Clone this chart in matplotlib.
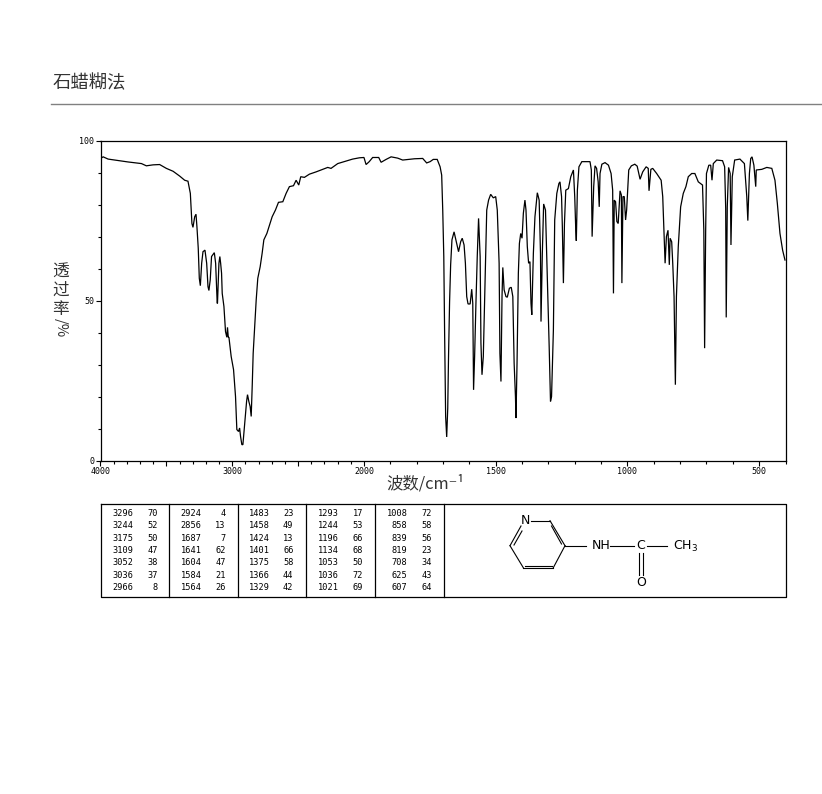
import numpy as np
import matplotlib
matplotlib.use("Agg")
import matplotlib.pyplot as plt
from matplotlib.ticker import FixedLocator, FixedFormatter

CJK = ['Noto Sans CJK SC', 'DejaVu Sans']

wavenumber = [4000,3980,3942,3891,3828,3790,3727,3689,3652,3601,3551,3500,3449,3399,3361,3336,3318,3306,3298,3285,3275,3268,3258,3250,3242,3232,3222,3207,3194,3184,3177,3167,3157,3136,3126,3119,3114,3112,3101,3094,3088,3081,3076,3063,3051,3041,3036,3030,3025,3008,2990,2975,2965,2952,2944,2937,2927,2919,2909,2899,2891,2884,2874,2864,2856,2848,2841,2831,2818,2806,2788,2773,2760,2737,2717,2697,2672,2649,2616,2591,2566,2535,2515,2495,2480,2452,2414,2364,2313,2275,2250,2199,2136,2086,2035,2000,
 1992,1980,1967,1944,1935,1916,1897,1872,1853,1808,1777,1762,1749,1737,1722,1711,1705,1701,1697,1694,1690,1686,1682,1679,1675,1671,1666,1658,1651,1641,1633,1627,1620,1615,1610,1605,1597,1591,1587,1584,1580,1575,1570,1565,1559,1556,1552,1547,1540,1534,1527,1519,1509,1500,1494,1487,1484,1480,1476,1473,1468,1461,1456,1448,1441,1435,1430,1425,1423,1419,1414,1410,1405,1400,1395,1389,1385,1380,1375,1370,1366,1363,1357,1351,1342,1335,1330,1328,1323,1318,1311,1304,1297,1292,1288,1281,1276,1268,1260,1256,1250,1247,1243,1239,1234,1224,1215,1205,1200,1196,1194,1190,1184,1173,1142,1137,1134,1128,1123,1117,1111,1107,1104,1097,1085,1072,1062,1056,1053,1050,1045,1040,1035,1028,1023,1021,1017,1012,1007,1003,995,985,972,963,952,942,929,921,918,911,904,889,872,866,857,852,846,841,838,832,828,823,818,814,807,798,788,778,769,756,744,731,715,710,707,703,700,691,684,679,674,661,639,631,627,625,621,616,610,607,602,593,573,556,547,543,537,532,527,520,513,511,490,471,452,440,431,421,411,402]
transmittance = [94.4,94.9,94.2,93.9,93.5,93.3,93.0,92.8,92.1,92.4,92.5,91.3,90.4,88.9,87.6,87.3,83.5,74.1,72.9,76.2,77.0,73.1,66.4,57.0,54.7,61.7,65.3,65.8,61.7,54.4,53.2,56.5,63.8,65.0,61.7,54.4,49.2,49.2,61.7,63.8,61.7,58.6,52.3,48.2,40.4,38.6,41.7,38.6,38.6,32.6,28.5,20.1,9.8,9.2,10.3,7.7,5.1,5.1,9.8,14.4,18.6,20.7,18.6,17.0,13.9,23.8,33.6,40.9,50.3,57.0,60.6,64.8,69.0,71.0,73.6,76.2,78.3,80.7,80.9,83.5,85.6,85.9,87.6,86.1,88.7,88.5,89.5,90.2,91.0,91.6,91.3,92.8,93.6,94.2,94.6,94.7,
 92.5,93.4,94.7,94.7,93.2,94.1,94.9,94.5,93.9,94.3,94.4,93.0,93.4,94.1,94.1,91.8,89.2,78.3,63.8,40.9,13.9,7.5,16.5,32.6,49.7,61.2,69.0,71.5,69.0,65.3,68.4,69.5,67.4,61.7,51.3,49.0,49.0,53.6,49.2,22.2,32.6,49.2,63.8,75.7,63.8,36.8,26.9,32.6,57.5,78.3,81.4,83.2,82.1,82.5,78.3,61.7,33.6,24.8,51.3,60.4,53.4,51.3,51.1,53.9,54.2,51.3,30.5,20.1,13.4,30.5,58.6,67.9,71.0,69.5,77.3,81.4,78.3,66.9,61.7,62.2,49.2,45.6,64.8,76.2,83.7,81.4,64.8,43.5,64.8,80.2,78.3,57.5,35.7,18.6,20.1,40.9,75.2,83.5,86.6,87.1,82.5,73.1,55.5,74.1,84.5,85.0,88.7,90.8,82.5,72.0,68.7,84.5,91.8,93.4,93.4,90.8,70.0,85.6,92.1,91.3,87.1,79.3,89.7,92.6,93.1,92.3,89.7,84.5,52.3,81.4,80.9,74.7,74.1,84.3,83.0,55.5,82.5,82.5,75.2,78.3,90.8,92.1,92.6,92.0,87.9,90.2,91.8,91.3,84.3,91.0,91.3,89.7,87.6,82.5,61.7,70.0,72.0,61.2,69.5,68.4,61.7,51.3,23.8,51.3,66.9,79.3,83.5,85.6,88.7,89.7,89.7,87.1,86.1,72.0,35.2,72.0,89.7,92.3,92.3,87.6,92.8,93.9,93.7,91.8,78.8,44.8,79.3,91.6,89.7,67.4,88.7,93.9,94.2,92.8,82.5,75.0,89.7,94.4,94.9,92.3,85.6,90.8,91.0,91.6,91.3,87.6,80.4,71.0,65.8,62.7]

major_ticks = [4000,3500,3000,2500,2000,1500,1000,500]
major_labels = ['4000','','3000','','2000','1500','1000','500']
minor_ticks = [w for w in list(range(3900,1999,-100))+list(range(1900,399,-100)) if w not in major_ticks]
y_ticks = [0,50,100]
y_minor = [10,20,30,40,60,70,80,90]

col_wn = [[3296,3244,3175,3109,3052,3036,2966],
          [2924,2856,1687,1641,1604,1584,1564],
          [1483,1458,1424,1401,1375,1366,1329],
          [1293,1244,1196,1134,1053,1036,1021],
          [1008,858,839,819,708,625,607]]
col_t = [[70,52,50,47,38,37,8],
         [4,13,7,62,47,21,26],
         [23,49,13,66,58,44,42],
         [17,53,66,68,50,72,69],
         [72,58,56,23,34,43,64]]

W, H = 822, 794
fig = plt.figure(figsize=(W/100, H/100), dpi=100, facecolor='white')

pg = fig.add_axes([0, 0, 1, 1])
pg.set_xlim(0, W); pg.set_ylim(H, 0); pg.axis('off')

pg.text(53, 83, '石蜡糊法', family=CJK, fontsize=13.2, color='#333333', ha='left', va='center')
pg.plot([51, 822], [103.5, 103.5], color='#808080', lw=1)

for ch, yy in zip('透过率', [272.5, 290.5, 309.5]):
    pg.text(60.5, yy, ch, family=CJK, fontsize=12, color='#333333', ha='center', va='center')
pg.text(60.5, 328, '/%', family=CJK, fontsize=10.5, color='#333333', rotation=-90, ha='center', va='center')
pg.text(425, 484, '波数/cm⁻¹', family=CJK, fontsize=11.8, color='#333333', ha='center', va='center')

# piecewise wavenumber scale: 2000-4000 is compressed by a factor of two
def forward(w):
    w = np.asarray(w, dtype=float)
    return np.where(w > 2000, 2000 + (w - 2000) * 0.5, w)
def inverse(v):
    v = np.asarray(v, dtype=float)
    return np.where(v > 2000, 2000 + (v - 2000) * 2, v)

ax = fig.add_axes([100.5/W, 1 - 461/H, 685/W, 320.5/H])
ax.set_facecolor('none')
ax.set_xscale('function', functions=(forward, inverse))
ax.plot(wavenumber, transmittance, color='black', lw=0.9, solid_joinstyle='miter')
ax.set_xlim(4000, 400)
ax.set_ylim(0, 100)
ax.xaxis.set_major_locator(FixedLocator(major_ticks))
ax.xaxis.set_major_formatter(FixedFormatter(major_labels))
ax.xaxis.set_minor_locator(FixedLocator(minor_ticks))
ax.xaxis.set_minor_formatter(FixedFormatter([]))
ax.yaxis.set_major_locator(FixedLocator(y_ticks))
ax.yaxis.set_minor_locator(FixedLocator(y_minor))
ax.tick_params(which='major', length=3.6, width=0.8, labelsize=6, pad=1)
ax.tick_params(axis='x', which='major', pad=0.5)
ax.tick_params(which='minor', length=2, width=0.8)
for lab in ax.get_xticklabels() + ax.get_yticklabels():
    lab.set_family('DejaVu Sans Mono')
for s in ax.spines.values():
    s.set_linewidth(0.9)

pg.plot([100.5, 785.5, 785.5, 100.5, 100.5], [504, 504, 596.5, 596.5, 504], color='black', lw=0.9)
for xd in [169, 237.5, 306, 374.5, 443.5]:
    pg.plot([xd, xd], [504, 596.5], color='black', lw=0.9)
wn_right = [133, 201.7, 270, 339, 407.5]
t_right = [158, 225.7, 293.5, 363, 432]
for cw, ct, xw, xt in zip(col_wn, col_t, wn_right, t_right):
    for i, (a, b) in enumerate(zip(cw, ct)):
        yy = 513.3 + i * 12.4
        pg.text(xw, yy, str(a), family='DejaVu Sans Mono', fontsize=6.2, ha='right', va='center')
        pg.text(xt, yy, str(b), family='DejaVu Sans Mono', fontsize=6.2, ha='right', va='center')

bonds = [((531, 520.7), (550, 520.7)), ((550, 520.7), (565, 545.7)), ((551.5, 526), (561.5, 544)),
         ((565, 545.7), (553.3, 567.7)), ((553.3, 567.7), (523.3, 567.7)), ((525, 565.5), (552, 565.5)),
         ((523.3, 567.7), (510, 545.7)), ((510, 545.7), (521, 526)), ((514, 545), (522, 531)),
         ((565, 545.7), (586, 545.7)), ((610, 545.7), (634, 545.7)), ((647, 545.7), (667, 545.7)),
         ((639.3, 553), (639.3, 575)), ((642.8, 553), (642.8, 575))]
for p, q in bonds:
    pg.plot([p[0], q[0]], [p[1], q[1]], color='black', lw=0.8)
for x, y, s in [(525.5, 520.7, 'N'), (601, 545.7, 'NH'), (641, 545.7, 'C'), (641.5, 582, 'O')]:
    pg.text(x, y, s, family='DejaVu Sans', fontsize=9, ha='center', va='center')
pg.text(686, 546, 'CH$_3$', family='DejaVu Sans', fontsize=9, ha='center', va='center')

fig.savefig('out.png', dpi=100)
